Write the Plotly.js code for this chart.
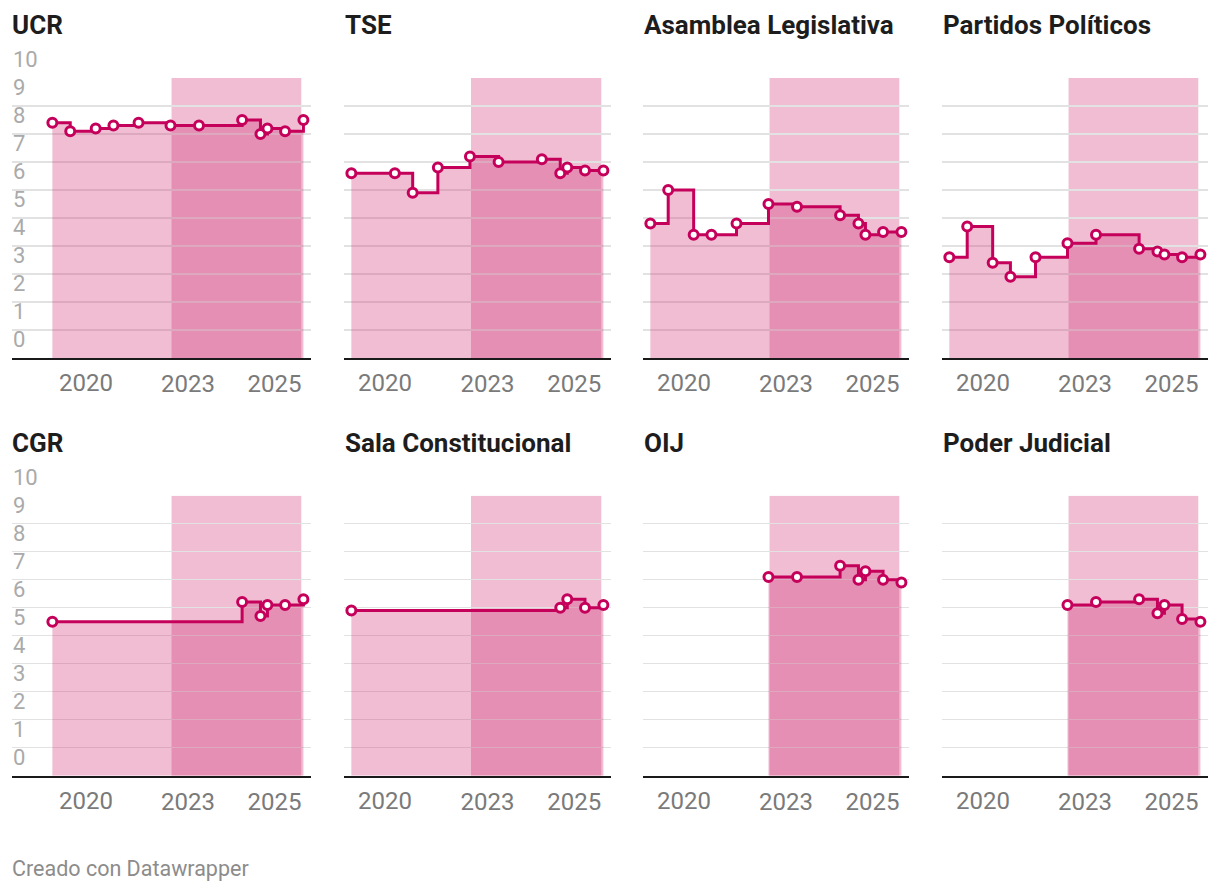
<!DOCTYPE html>
<html>
<head>
<meta charset="utf-8">
<script src="https://cdn.plot.ly/plotly-3.0.1.min.js"></script>
<style>
html,body{margin:0;padding:0;background:#fff;}
#chart{width:1220px;height:892px;}
</style>
</head>
<body>
<div id="chart"></div>
<script>
// ---- data ----
const surveyDates = ['2019-11-13','2020-04-12','2020-11-13','2021-04-12','2021-11-10','2022-08-07',
                     '2023-04-05','2024-04-03','2024-09-05','2024-11-03','2025-04-01','2025-09-03'];
const institutions = ['UCR','TSE','Asamblea Legislativa','Partidos Políticos',
                      'CGR','Sala Constitucional','OIJ','Poder Judicial'];
const ucr           = [8.4, 8.1, 8.2, 8.3, 8.4, 8.3, 8.3, 8.5, 8.0, 8.2, 8.1, 8.5];
const tse           = [6.6, null, 6.6, 5.9, 6.8, 7.2, 7.0, 7.1, 6.6, 6.8, 6.7, 6.7];
const asamblea      = [4.8, 6.0, 4.4, 4.4, 4.8, 5.5, 5.4, 5.1, 4.8, 4.4, 4.5, 4.5];
const partidos      = [3.6, 4.7, 3.4, 2.9, 3.6, 4.1, 4.4, 3.9, 3.8, 3.7, 3.6, 3.7];
const cgr           = [5.5, null, null, null, null, null, null, 6.2, 5.7, 6.1, 6.1, 6.3];
const sala          = [5.9, null, null, null, null, null, null, null, 6.0, 6.3, 6.0, 6.1];
const oij           = [null, null, null, null, null, 7.1, 7.1, 7.5, 7.0, 7.3, 7.0, 6.9];
const poderJudicial = [null, null, null, null, null, 6.1, 6.2, 6.3, 5.8, 6.1, 5.6, 5.5];
const highlightPeriod = ['2022-08-16', '2025-08-16'];
const xTickVals = ['2023-01-01', '2025-01-01'];
const xTickText = ['2023', '2025'];
const firstXTickVal = '2020-01-01';
const firstXTickText = '2020';
const yTickVals = [0, 1, 2, 3, 4, 5, 6, 7, 8, 9, 10];
const yTickText = ['0', '1', '2', '3', '4', '5', '6', '7', '8', '9', '10'];
const footerText = 'Creado con Datawrapper';

// ---- style / layout ----
const seriesList = [ucr, tse, asamblea, partidos, cgr, sala, oij, poderJudicial];
const W = 1220, H = 892;
const LINE = '#c5005b';
const PINK = 'rgba(205,38,108,0.30)';
const FONT = 'Roboto, "Open Sans", sans-serif';
const colPx = [[12, 311], [344, 611], [643, 909], [942, 1208]];
const colRange = [['2018-12-07', '2025-11-06'], ['2019-09-12', '2025-11-06'],
                  ['2019-09-12', '2025-11-06'], ['2019-09-12', '2025-11-06']];
const rowPx = [[78, 358], [495.7, 775.7]];
const titleY = [25, 443];
const xLabelY = [383, 801];
const titleX = [12, 345, 644, 943];

const px2x = p => p / W;
const px2y = p => 1 - p / H;

const traces = [];
const layout = {
  width: W, height: H,
  margin: {l: 0, r: 0, t: 0, b: 0},
  paper_bgcolor: '#fff', plot_bgcolor: 'rgba(0,0,0,0)',
  showlegend: false,
  font: {family: FONT},
  shapes: [], annotations: []
};

seriesList.forEach((vals, i) => {
  const r = Math.floor(i / 4), c = i % 4;
  const n = i === 0 ? '' : String(i + 1);
  const xs = [], ys = [];
  vals.forEach((v, k) => { if (v !== null) { xs.push(surveyDates[k]); ys.push(v); } });
  traces.push({
    type: 'scatter', mode: 'lines+markers',
    x: xs, y: ys, xaxis: 'x' + n, yaxis: 'y' + n,
    line: {shape: 'hv', color: LINE, width: 3},
    fill: 'tozeroy', fillcolor: PINK,
    marker: {size: 9, color: '#fff', line: {color: LINE, width: 3}},
    cliponaxis: false, hoverinfo: 'skip'
  });
  layout['xaxis' + n] = {
    domain: [px2x(colPx[c][0]), px2x(colPx[c][1])],
    anchor: 'y' + n, type: 'date', range: colRange[c],
    showgrid: false, zeroline: false,
    showline: true, linecolor: '#1a1a1a', linewidth: 2,
    ticks: '', tickmode: 'array', tickvals: xTickVals, ticktext: xTickText,
    ticklabelstandoff: 3,
    tickfont: {family: FONT, size: 24, color: '#7a7a7a'},
    fixedrange: true
  };
  layout['yaxis' + n] = {
    domain: [px2y(rowPx[r][1]), px2y(rowPx[r][0])],
    anchor: 'x' + n, range: [0, 10],
    showgrid: true, gridcolor: '#e2e2e2', gridwidth: 1.4,
    zeroline: false, showline: false, ticks: '',
    tickmode: 'array', tickvals: yTickVals, ticktext: yTickText,
    showticklabels: c === 0,
    ticklabelposition: 'inside top', ticklabeloverflow: 'allow',
    ticklabelstandoff: -2, ticklabelshift: -3,
    tickfont: {family: FONT, size: 22, color: '#aaaaaa'},
    fixedrange: true
  };
  layout.shapes.push({
    type: 'rect', xref: 'x' + n, yref: 'y' + n,
    x0: highlightPeriod[0], x1: highlightPeriod[1], y0: 0, y1: 10,
    fillcolor: PINK, line: {width: 0}, layer: 'below'
  });
  layout.annotations.push({
    text: '<b>' + institutions[i] + '</b>', xref: 'paper', yref: 'paper',
    x: px2x(titleX[c]), y: px2y(titleY[r]), xanchor: 'left', yanchor: 'middle',
    xshift: -2, showarrow: false, font: {family: FONT, size: 26, color: '#1d1d1d'}
  });
  layout.annotations.push({
    text: firstXTickText, xref: 'x' + n, yref: 'paper',
    x: firstXTickVal, y: px2y(xLabelY[r]), xanchor: 'left', yanchor: 'middle',
    xshift: -1, showarrow: false, font: {family: FONT, size: 24, color: '#7a7a7a'}
  });
});

layout.annotations.push({
  text: footerText, xref: 'paper', yref: 'paper',
  x: px2x(12), y: px2y(868), xanchor: 'left', yanchor: 'middle',
  xshift: -2, showarrow: false, font: {family: FONT, size: 21.5, color: '#8c8c8c'}
});

Plotly.newPlot('chart', traces, layout, {displayModeBar: false, staticPlot: true});
</script>
</body>
</html>
